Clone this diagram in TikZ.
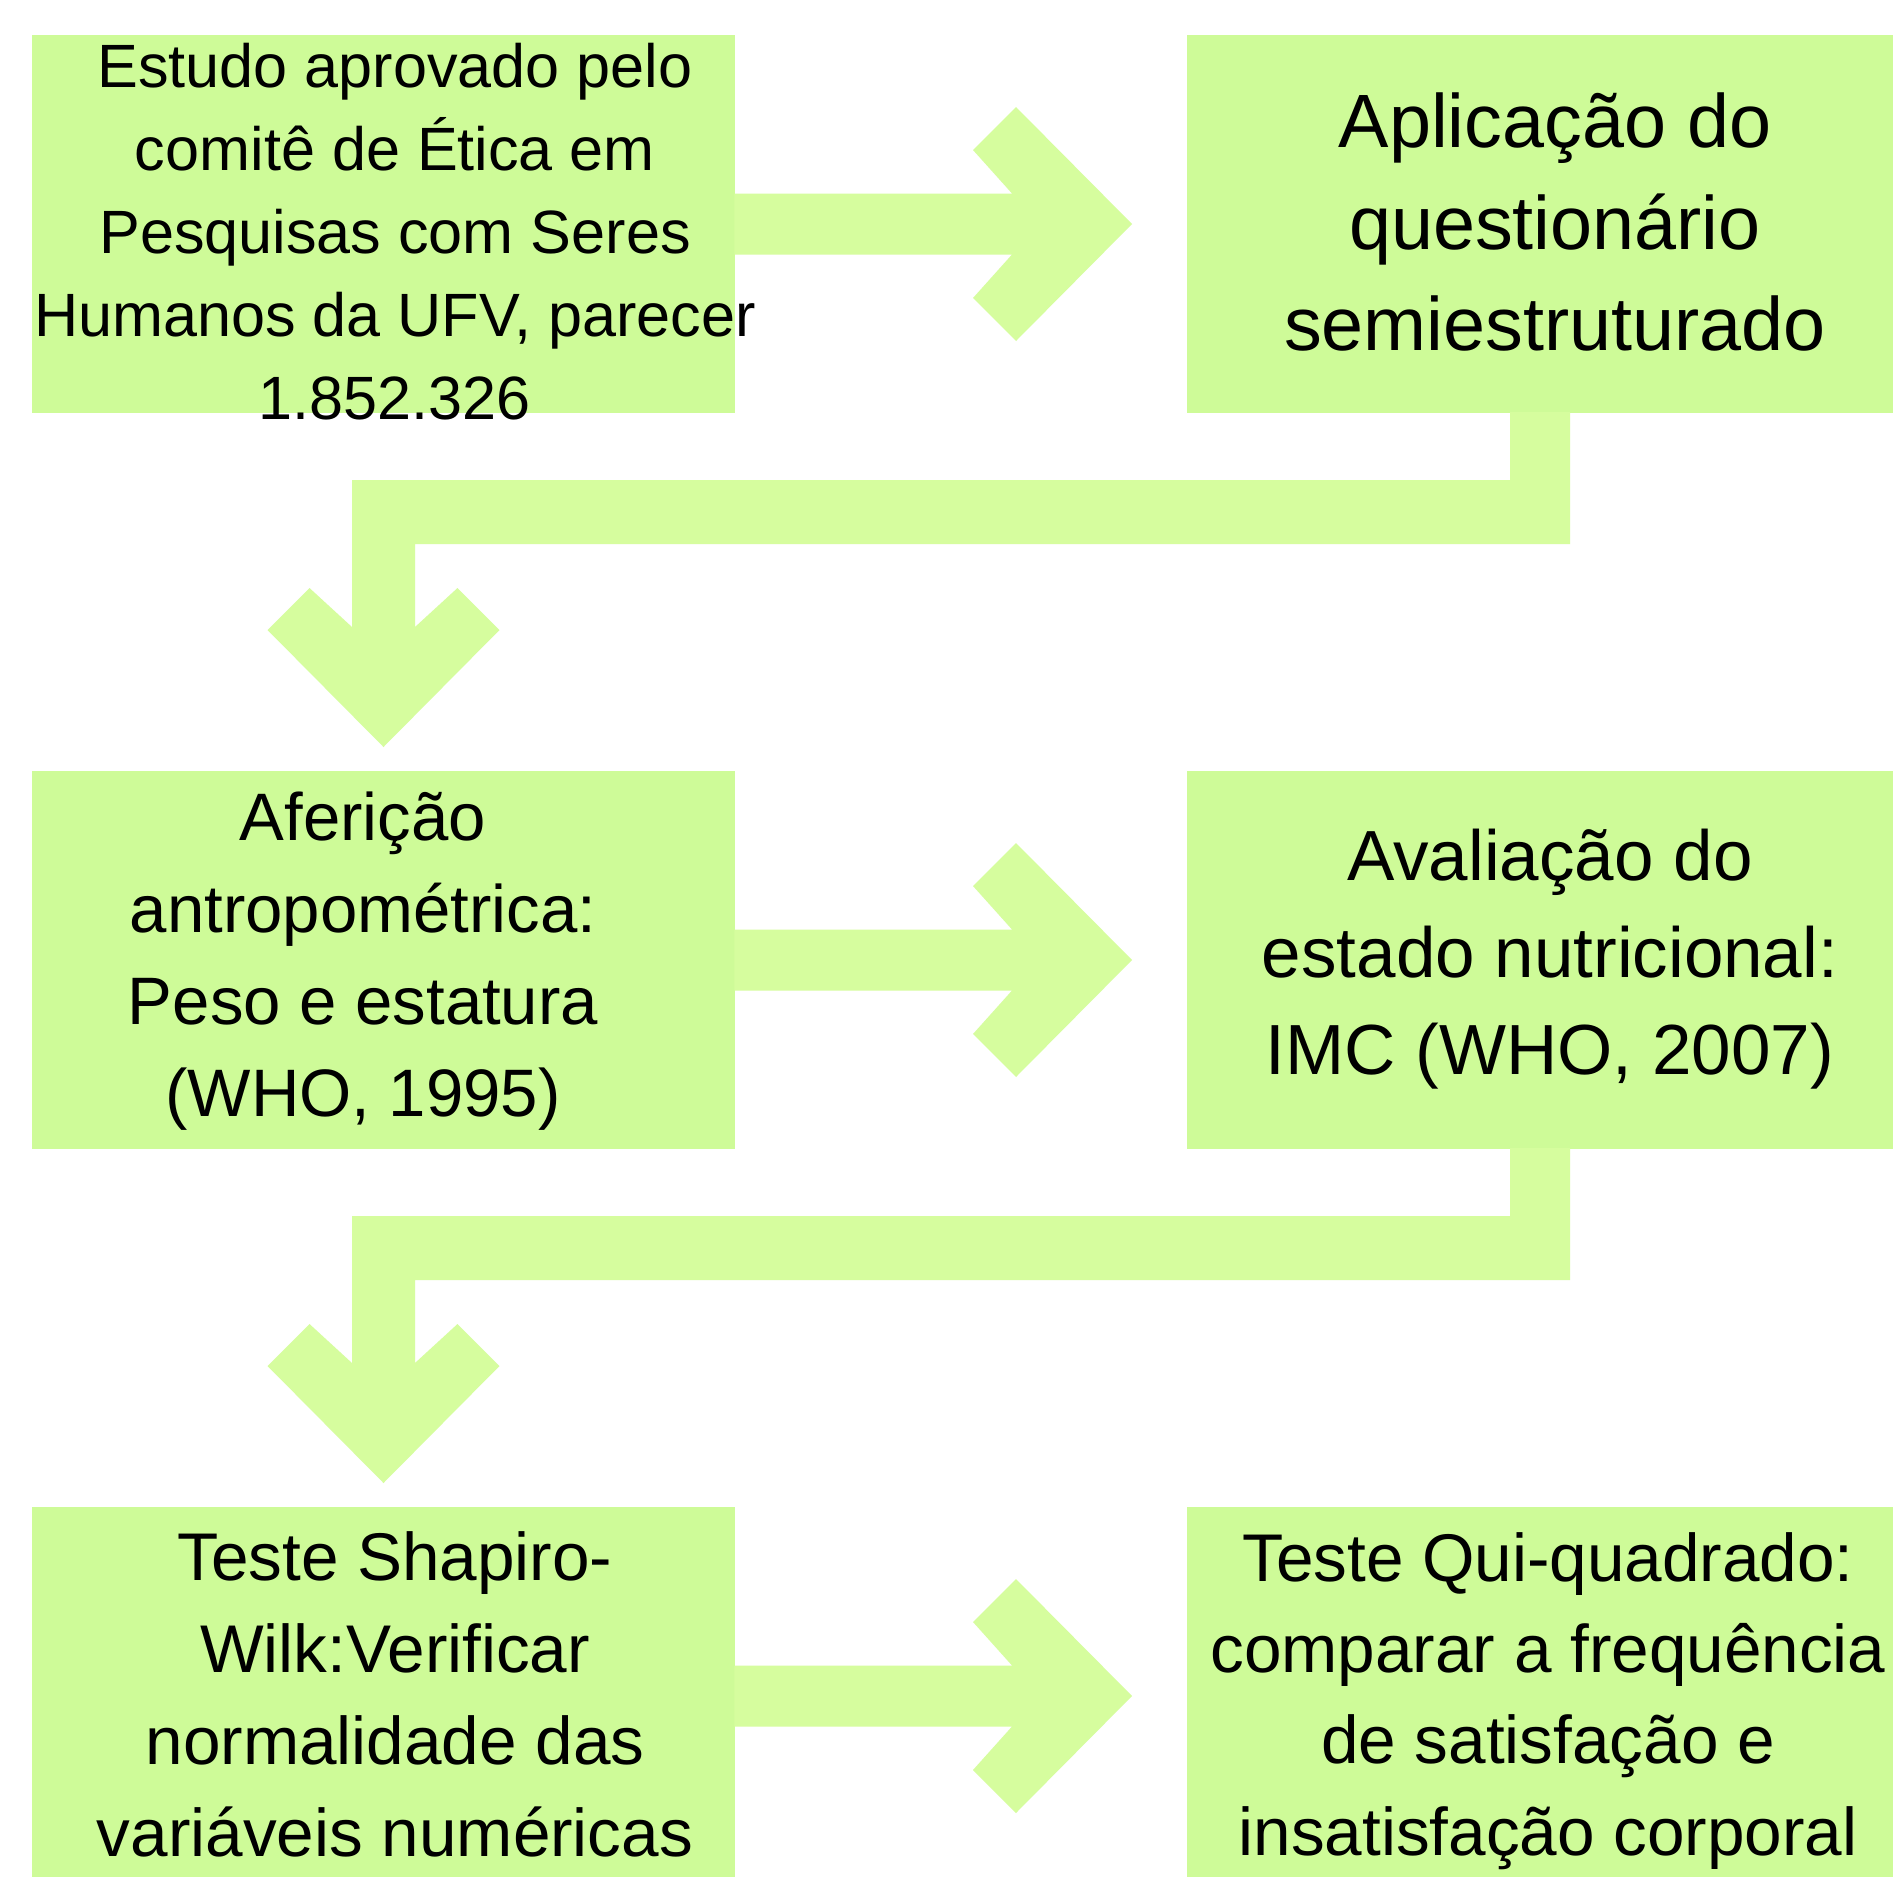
\documentclass[tikz,border=0pt]{standalone}
\usepackage{fontspec}
\setmainfont{Liberation Sans}
\usetikzlibrary{calc}
\definecolor{boxg}{RGB}{206,251,152}
\definecolor{arrg}{RGB}{214,253,158}
\newcommand\myrarrow[2]{%
  \fill[conn] ($(#1.east)+(-1,-30.5)$) -- ($(#2.west)+(-175,-30.5)$) -- ($(#2.west)+(-214,-74)$) -- ($(#2.west)+(-171,-117)$) -- ($(#2.west)+(-55,0)$) -- ($(#2.west)+(-171,117)$) -- ($(#2.west)+(-214,74)$) -- ($(#2.west)+(-175,30.5)$) -- ($(#1.east)+(-1,30.5)$) -- cycle;}
\newcommand\mydarrow[2]{%
  \fill[conn] ($(#1.south)+(30,-1)$) |- ($(#2.north)+(31.5,-227)$) -- ($(#2.north)+(31.5,-144)$) -- ($(#2.north)+(74,-183)$) -- ($(#2.north)+(116,-141)$) -- ($(#2.north)+(0,-24)$) -- ($(#2.north)+(-116,-141)$) -- ($(#2.north)+(-74,-183)$) -- ($(#2.north)+(-31.5,-144)$) |- ($(#1.south)+(-30,67)$) -- ($(#1.south)+(-30,-1)$) -- cycle;}
\begin{document}
\begin{tikzpicture}[x=0.1mm,y=-0.1mm,
  box/.style={fill=boxg, draw=none, inner sep=0pt, outer sep=0pt, minimum width=70.4mm, minimum height=37.8mm},
  conn/.style={fill=arrg},
  txt/.style={align=center, inner sep=0pt, text=black}]
\clip (0,0) rectangle (1899,1877);
\fill[white] (0,0) rectangle (1899,1877);
\node[box] (b1) at (383.5,224) {};
\node[box, minimum width=70.6mm] (b2) at (1540,224) {};
\node[box] (b3) at (383.5,960) {};
\node[box, minimum width=70.6mm] (b4) at (1540,960) {};
\node[box] (b5) at (383.5,1696) {};
\node[box, minimum width=70.6mm] (b6) at (1540,1696) {};
\myrarrow{b1}{b2}
\myrarrow{b3}{b4}
\myrarrow{b5}{b6}
\mydarrow{b2}{b3}
\mydarrow{b4}{b5}
\node[txt, font={\fontsize{17.4pt}{23.6pt}\selectfont}] (t1) at (395,232) {Estudo aprovado pelo\\comitê de Ética em\\Pesquisas com Seres\\Humanos da UFV, parecer\\1.852.326};
\node[txt, font={\fontsize{21.5pt}{29pt}\selectfont}] (t2) at (1555,222) {Aplicação do\\questionário\\semiestruturado};
\node[txt, font={\fontsize{19.1pt}{26.2pt}\selectfont}] (t3) at (363,961) {Aferição\\antropométrica:\\Peso e estatura\\(WHO, 1995)};
\node[txt, font={\fontsize{20.2pt}{27.6pt}\selectfont}] (t4) at (1550,959) {Avaliação do\\estado nutricional:\\IMC (WHO, 2007)};
\node[txt, font={\fontsize{19.2pt}{26.2pt}\selectfont}] (t5) at (395,1694) {Teste Shapiro-\\Wilk:Verificar\\normalidade das\\variáveis numéricas};
\node[txt, font={\fontsize{19.2pt}{26pt}\selectfont}] (t6) at (1548,1701) {Teste Qui-quadrado:\\comparar a frequência\\de satisfação e\\insatisfação corporal};
\end{tikzpicture}
\end{document}
